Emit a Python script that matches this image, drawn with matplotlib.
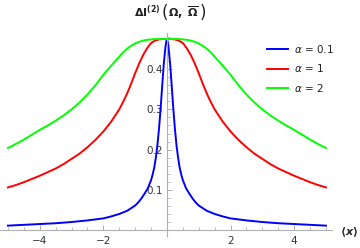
import matplotlib
matplotlib.use('Agg')
import matplotlib.pyplot as plt
from matplotlib.ticker import MultipleLocator

plt.rcParams['mathtext.fontset'] = 'custom'
plt.rcParams['mathtext.rm'] = 'DejaVu Sans'
plt.rcParams['mathtext.it'] = 'DejaVu Sans:italic'
plt.rcParams['mathtext.bf'] = 'DejaVu Sans:bold'

# values
x_wide = [-5, -4.75, -4.5, -4.25, -4, -3.75, -3.5, -3.25, -3, -2.75, -2.5, -2.25, -2, -1.75, -1.5, -1.375,
          -1.25, -1.125, -1, -0.875, -0.75, -0.625, -0.5, -0.375, -0.25, -0.125,
          0, 0.125, 0.25, 0.375, 0.5, 0.625, 0.75, 0.875, 1, 1.125, 1.25,
          1.375, 1.5, 1.75, 2, 2.25, 2.5, 2.75, 3, 3.25, 3.5, 3.75, 4, 4.25, 4.5, 4.75, 5]
green = [0.204, 0.214, 0.225, 0.237, 0.249, 0.260, 0.272, 0.285, 0.300, 0.317, 0.337, 0.360, 0.386, 0.409, 0.431, 0.442,
         0.451, 0.458, 0.464, 0.468, 0.471, 0.473, 0.474, 0.475, 0.475, 0.475,
         0.475, 0.475, 0.475, 0.475, 0.474, 0.473, 0.471, 0.468, 0.464, 0.458, 0.451,
         0.442, 0.431, 0.409, 0.386, 0.360, 0.337, 0.317, 0.300, 0.285, 0.272, 0.260, 0.249, 0.237, 0.225, 0.214, 0.204]
red = [0.106, 0.112, 0.119, 0.127, 0.135, 0.144, 0.153, 0.164, 0.177, 0.190, 0.206, 0.224, 0.245, 0.270, 0.300, 0.319,
       0.340, 0.364, 0.390, 0.414, 0.435, 0.452, 0.465, 0.471, 0.474, 0.475,
       0.475, 0.475, 0.474, 0.471, 0.465, 0.452, 0.435, 0.414, 0.390, 0.364, 0.340,
       0.319, 0.300, 0.270, 0.245, 0.224, 0.206, 0.190, 0.177, 0.164, 0.153, 0.144, 0.135, 0.127, 0.119, 0.112, 0.106]

x_blue = [-5, -4.5, -4, -3.5, -3, -2.5, -2, -1.75, -1.5, -1.25, -1, -0.9, -0.8, -0.7, -0.6, -0.5, -0.45, -0.4,
          -0.35, -0.3, -0.25, -0.2, -0.15, -0.1, -0.05, -0.025,
          0, 0.025, 0.05, 0.1, 0.15, 0.2, 0.25, 0.3, 0.35,
          0.4, 0.45, 0.5, 0.6, 0.7, 0.8, 0.9, 1, 1.25, 1.5, 1.75, 2, 2.5, 3, 3.5, 4, 4.5, 5]
blue = [0.011, 0.013, 0.015, 0.017, 0.020, 0.024, 0.029, 0.034, 0.040, 0.048, 0.061, 0.069, 0.079, 0.091, 0.104, 0.124, 0.138, 0.155,
        0.180, 0.211, 0.252, 0.302, 0.358, 0.413, 0.453, 0.468,
        0.475, 0.468, 0.453, 0.413, 0.358, 0.302, 0.252, 0.211, 0.180,
        0.155, 0.138, 0.124, 0.104, 0.091, 0.079, 0.069, 0.061, 0.048, 0.040, 0.034, 0.029, 0.024, 0.020, 0.017, 0.015, 0.013, 0.011]

labels = [r'$\alpha$ = 0.1', r'$\alpha$ = 1', r'$\alpha$ = 2']

fig = plt.figure(figsize=(3.6, 2.48), dpi=100)
ax = fig.add_axes([0.0, 0.048, 332 / 360, 0.819])

ax.plot(x_blue, blue, color='#0000ff', lw=1.4, label=labels[0])
ax.plot(x_wide, red, color='#ff0000', lw=1.4, label=labels[1])
ax.plot(x_wide, green, color='#00ff00', lw=1.4, label=labels[2])

ax.set_xlim(-5.25, 5.19)
ax.set_ylim(-0.015, 0.49)

for s in ['top', 'right']:
    ax.spines[s].set_visible(False)
ax.spines['left'].set_position(('data', 0))
ax.spines['bottom'].set_position(('data', 0))
for s in ['left', 'bottom']:
    ax.spines[s].set_color('#b0b0b0')
    ax.spines[s].set_linewidth(0.8)

ax.set_xticks([-4, -2, 2, 4])
ax.set_xticklabels(['\u22124', '\u22122', '2', '4'])
ax.set_yticks([0.1, 0.2, 0.3, 0.4])
ax.set_yticklabels(['0.1', '0.2', '0.3', '0.4'])
ax.xaxis.set_minor_locator(MultipleLocator(0.5))
ax.yaxis.set_minor_locator(MultipleLocator(0.02))
ax.tick_params(which='both', direction='in', color='#b0b0b0', labelsize=7.5, labelcolor='#333333')
ax.tick_params(which='major', length=3.5, width=0.7)
ax.tick_params(which='minor', length=2, width=0.6)
ax.tick_params(axis='x', pad=4)
ax.tick_params(axis='y', pad=3)
ax.patch.set_alpha(0)

# y axis label at the top, built from pieces so the parentheses can be tall
renderer = fig.canvas.get_renderer()
pieces = [(r'$\mathbf{\Delta I}^{\mathbf{(2)}}$', 8, 'baseline', 0.5),
          ('(', 12, 'center', 0.5),
          (r'$\mathbf{\Omega,}\ \overline{\mathbf{\Omega}}$', 8, 'baseline', 0.5),
          (')', 12, 'center', 0)]
xpos = 134.0
for txt, size, va, gap in pieces:
    ypx = 17.0 if va == 'baseline' else 13.0
    t = fig.text(xpos / 360, 1 - ypx / 248, txt, ha='left', va=va, fontsize=size, color='#222222')
    bb = t.get_window_extent(renderer)
    xpos += bb.width + gap

fig.text(349 / 360, 1 - 232 / 248, r'$\mathbf{\langle}\boldsymbol{x}\mathbf{\rangle}$',
         ha='center', va='center', fontsize=8, color='#222222')

leg = ax.legend(loc='upper left', bbox_to_anchor=(267 / 360, 1 - 43 / 248), bbox_transform=fig.transFigure,
                frameon=False, fontsize=7.5, handlelength=2.0, handletextpad=0.6, labelspacing=0.7,
                borderaxespad=0, borderpad=0)
for t in leg.get_texts():
    t.set_color('#222222')

fig.savefig('out.png', dpi=100)
